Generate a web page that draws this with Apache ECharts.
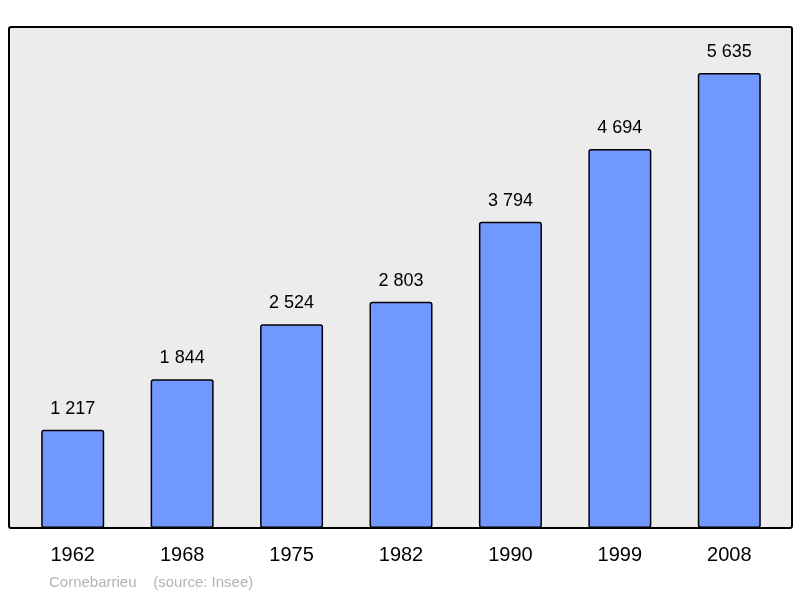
<!DOCTYPE html>
<html><head><meta charset="utf-8">
<script src="https://cdn.jsdelivr.net/npm/echarts@6/dist/echarts.min.js"></script>
<style>html,body{margin:0;padding:0;background:#fff}#c{width:800px;height:598px}</style>
</head><body><div id="c"></div>
<script>
const categories = ['1962','1968','1975','1982','1990','1999','2008'];
const values = [1217,1844,2524,2803,3794,4694,5635];
const chart = echarts.init(document.getElementById('c'));
chart.setOption({
  animation:false,
  backgroundColor:'#fff',
  graphic:[
    {type:'rect',z:-1,shape:{x:9,y:27,width:783,height:501,r:2},style:{fill:'#ececec',stroke:'#000',lineWidth:2}},
    {type:'text',left:49,top:575,style:{text:'Cornebarrieu    (source: Insee)',fill:'#b4b4b4',font:'15px "Liberation Sans", Arial'}}
  ],
  grid:{left:18,right:16,top:27,bottom:70},
  xAxis:{type:'category',data:categories,axisLine:{show:false},axisTick:{show:false},
    axisLabel:{color:'#000',fontSize:20,fontFamily:'Liberation Sans',margin:17}},
  yAxis:{type:'value',min:0,max:6206,show:false,splitLine:{show:false}},
  series:[{type:'bar',data:values,barWidth:63,
    itemStyle:{color:'#7098ff',borderColor:'#000',borderWidth:1.5,borderRadius:2},
    label:{show:true,position:'top',distance:12,color:'#000',fontSize:18,fontFamily:'Liberation Sans',
      formatter:p=>String(p.value).replace(/\B(?=(\d{3})+(?!\d))/g,' ')}}]
});
</script></body></html>
